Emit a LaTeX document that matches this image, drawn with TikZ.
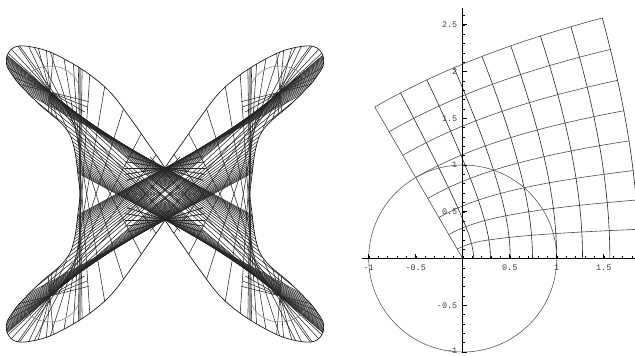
\documentclass[tikz,border=0pt]{standalone}
\usepackage{fontspec}
\newfontfamily\monof{Liberation Mono}
\begin{document}
\begin{tikzpicture}[x=1pt,y=1pt,
  mesh/.style={black!85,line width=0.55pt},
  rim/.style={black!90,line width=0.7pt},
  gridl/.style={black!85,line width=0.6pt},
  axisl/.style={black,line width=0.6pt},
  lab/.style={font=\monof\fontsize{8.5}{9}\selectfont,text=black!75,inner sep=0pt},
  declare function={
    zr(\u,\v)=pow(\u*\u+\v*\v,2/3);
    za(\u,\v)=4/3*atan2(\v,\u);
  }]
\useasboundingbox (0,0) rectangle (635,356);
% ---------------- left figure ----------------
\def\outl{plot[smooth,tension=0.55] coordinates {(0,26) (-8,38) (-18,52) (-32,72) (-55,102) (-82,124) (-115,142) (-140,148) (-152,146) (-158,138) (-158,128) (-152,118) (-145,109) (-125,89) (-105,72) (-95,59) (-90,42) (-87,19) (-85,0) (-87,-19) (-90,-42) (-95,-59) (-105,-72) (-125,-89) (-145,-109) (-152,-118) (-158,-128) (-158,-138) (-152,-146) (-140,-148) (-115,-142) (-82,-124) (-55,-102) (-32,-72) (-18,-52) (-8,-38) (0,-26)}
 -- plot[smooth,tension=0.55] coordinates {(0,-26) (8,-38) (18,-52) (32,-72) (55,-102) (82,-124) (115,-142) (140,-148) (152,-146) (158,-138) (158,-128) (152,-118) (145,-109) (125,-89) (105,-72) (95,-59) (90,-42) (87,-19) (85,0) (87,19) (90,42) (95,59) (105,72) (125,89) (145,109) (152,118) (158,128) (158,138) (152,146) (140,148) (115,142) (82,124) (55,102) (32,72) (18,52) (8,38) (0,26)}
 -- cycle}
\begin{scope}[shift={(165pt,162pt)}]
  \begin{scope}
    \clip \outl;
    % side arcs (left, mirrored to right)
    \foreach \mx in {1,-1}{
      \begin{scope}[xscale=\mx]
        \clip (-200,-200) rectangle (15,200);
        \foreach \th in {-85.5,-76.5,...,85.5}{
          \pgfmathsetmacro\s{sin(\th)}
          \pgfmathsetmacro\px{-85-30*\s*\s*\s*\s}
          \pgfmathsetmacro\py{102*\s}
          \pgfmathsetmacro\vx{-1.2*\s*\s*\s}
          \pgfmathsetmacro\vl{veclen(\vx,1.02)}
          \pgfmathsetmacro\ux{\vx/\vl}
          \pgfmathsetmacro\uy{1.02/\vl}
          \draw[mesh] ({\px-300*\ux},{\py-300*\uy}) -- ({\px+300*\ux},{\py+300*\uy});
        }
      \end{scope}
    }
    % V arms, tip fans, waist fans and inner arcs in all four quadrants
    \foreach \mx/\my in {1/1,-1/1,1/-1,-1/-1}{
      \begin{scope}[xscale=\mx,yscale=\my]
        \foreach \t in {0.02,0.07,...,0.99}{
          \pgfmathsetmacro\bx{(1-\t)*(1-\t)*(-115)+2*\t*(1-\t)*(-68.3)}
          \pgfmathsetmacro\by{(1-\t)*(1-\t)*102+2*\t*(1-\t)*62.3+\t*\t*26}
          \pgfmathsetmacro\vx{2*(1-\t)*0.467+2*\t*0.683}
          \pgfmathsetmacro\vy{2*(1-\t)*(-0.397)+2*\t*(-0.363)}
          \pgfmathsetmacro\vl{veclen(\vx,\vy)}
          \pgfmathsetmacro\ux{\vx/\vl}
          \pgfmathsetmacro\uy{\vy/\vl}
          \draw[mesh] ({\bx-300*\ux},{\by-300*\uy}) -- ({\bx+300*\ux},{\by+300*\uy});
        }
        \foreach \d in {85,95,105,115,125,150,158,166}{
          \draw[mesh] ({-115+90*cos(\d)},{102+90*sin(\d)}) -- ({-115-40*cos(\d)},{102-40*sin(\d)});
        }
        \foreach \d in {-18,-9,0,9,18}{
          \draw[mesh] ({-40*cos(\d)},{26-40*sin(\d)}) -- ({40*cos(\d)},{26+40*sin(\d)});
        }
        \draw[black!50,line width=0.55pt] (-115,102) ++(-5:30 and 26) arc[start angle=-5,end angle=165,x radius=30,y radius=26];
      \end{scope}
    }
  \end{scope}
  \draw[rim] \outl;
\end{scope}
% ---------------- right figure ----------------
\begin{scope}[shift={(462.7pt,97.5pt)},x=94pt,y=93.5pt]
  \begin{scope}
    \clip (-1.2,-1.1) rectangle (1.833,2.8);
    \foreach \c in {0.2,0.4,...,1.61}{
      \draw[gridl] plot[domain=0:1.6,samples=17,variable=\t] ({zr(\c,\t)*cos(za(\c,\t))},{zr(\c,\t)*sin(za(\c,\t))});
      \draw[gridl,black!70] plot[domain=0:1.6,samples=17,variable=\t] ({zr(\t,\c)*cos(za(\t,\c))},{zr(\t,\c)*sin(za(\t,\c))});
    }
    \draw[gridl,black!70] (0,0) -- (-0.936,1.621);
  \end{scope}
  \draw[black!65,line width=0.6pt] (0,0) circle [x radius=1,y radius=1];
  \draw[axisl] (-1.07,0) -- (1.833,0);
  \draw[axisl] (0,-1.01) -- (0,2.68);
  \foreach \i in {-10,...,18}{
    \draw[axisl,line width=0.4pt] (\i/10,0) -- (\i/10,0.022);
  }
  \foreach \i in {-10,...,26}{
    \draw[axisl,line width=0.4pt] (0,\i/10) -- (0.022,\i/10);
  }
  \foreach \i in {-1,-0.5,0.5,1,1.5}{
    \draw[axisl,line width=0.5pt] (\i,0) -- (\i,0.045);
  }
  \foreach \i in {-1,-0.5,0.5,1,1.5,2,2.5}{
    \draw[axisl,line width=0.5pt] (0,\i) -- (0.045,\i);
  }
  \node[lab] (xm1) at (-1,-0.095) {-1};
  \node[lab] (xm05) at (-0.5,-0.095) {-0.5};
  \node[lab] (x05) at (0.5,-0.095) {0.5};
  \node[lab] (x1) at (1,-0.095) {1};
  \node[lab] (x15) at (1.5,-0.095) {1.5};
  \node[lab,anchor=east] (y25) at (-0.055,2.5) {2.5};
  \node[lab,anchor=east] (y2) at (-0.055,2) {2};
  \node[lab,anchor=east] (y15) at (-0.055,1.5) {1.5};
  \node[lab,anchor=east] (y1) at (-0.055,1) {1};
  \node[lab,anchor=east] (y05) at (-0.055,0.5) {0.5};
  \node[lab,anchor=east] (ym05) at (-0.055,-0.5) {-0.5};
  \node[lab,anchor=east] (ym1) at (-0.055,-0.985) {-1};
\end{scope}
\end{tikzpicture}
\end{document}
